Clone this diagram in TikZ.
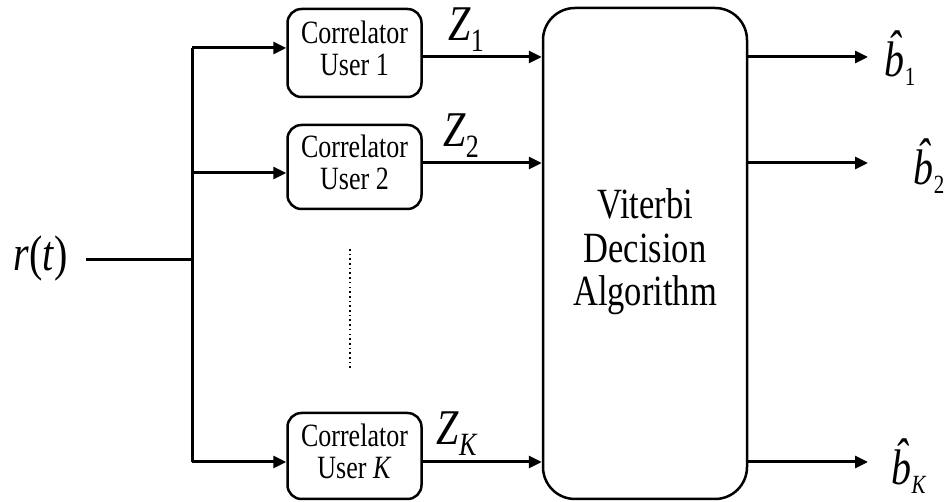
\documentclass[tikz,border=0pt]{standalone}
\usepackage{fontspec}
\usepackage{graphicx}
\setmainfont{Liberation Serif}
\usetikzlibrary{arrows.meta}
% text is set tall and narrow
\newcommand\tall[1]{\scalebox{1}[1.25]{#1}}
% stacked lines inside a box
\newcommand\lines[1]{\tall{\begin{tabular}{@{}c@{}}#1\end{tabular}}}
% lowered subscript in a smaller size
\newcommand\lowsub[3]{\raisebox{-#1pt}{\fontsize{#2}{#2}\selectfont #3}}
% b with a circumflex over it
\newcommand\bhat{\textit{\makebox[0pt][l]{\hspace{3pt}\raisebox{9pt}{ˆ}}b}}
\begin{document}
\begin{tikzpicture}[x=1pt,y=-1pt,
  corr/.style={draw, line width=2.5pt, rounded corners=14pt, minimum width=134pt,
    align=center, font=\fontsize{26}{26}\selectfont, inner sep=0pt},
  bigbox/.style={draw, line width=2.5pt, rounded corners=32pt, minimum width=204pt,
    minimum height=491pt, align=center, font=\fontsize{34.5}{35}\selectfont},
  wire/.style={line width=3pt},
  arr/.style={line width=3pt, -{Triangle[length=13pt,width=12pt]}},
  lbl/.style={inner sep=0pt, font=\fontsize{40}{40}\selectfont}]
\useasboundingbox (0,0) rectangle (946,502);

% correlator bank
\node[corr, minimum height=88pt] (c1) at (354.5,53) {\lines{Correlator\\User 1}};
\node[corr, minimum height=84pt] (c2) at (354.5,167) {\lines{Correlator\\User 2}};
\node[corr, minimum height=86pt] (cK) at (354.5,456) {\lines{Correlator\\User \textit{K}}};

% decision block
\node[bigbox] (vit) at (645,253.5) {\lines{Viterbi\\Decision\\Algorithm}};

% input signal and distribution bus
\node[lbl] (r) at (41,258) {\tall{\textit{r}(\textit{t})}};
\coordinate (rin) at (86,260);
\coordinate (split) at (192,260);
\coordinate (bt) at (192,48);
\coordinate (bm) at (192,173);
\coordinate (bb) at (192,462);
\draw[wire] (rin) -- (split);
\draw[wire] (bt) -- (bb);
\draw[arr] (bt) -- (c1.west |- bt);
\draw[arr] (bm) -- (c2.west |- bm);
\draw[arr] (bb) -- (cK.west |- bb);

% correlator outputs
\coordinate (o1) at (0,57);
\coordinate (o2) at (0,163);
\coordinate (oK) at (0,462);
\draw[arr] (c1.east |- o1) -- (vit.west |- o1);
\draw[arr] (c2.east |- o2) -- (vit.west |- o2);
\draw[arr] (cK.east |- oK) -- (vit.west |- oK);
\node[lbl] (z1) at (466,30) {\tall{\textit{Z}\lowsub{9}{26}{1}}};
\node[lbl] (z2) at (461,136) {\tall{\textit{Z}\lowsub{9}{26}{2}}};
\node[lbl] (zK) at (457,434) {\tall{\textit{Z}\lowsub{9}{26}{\textit{K}}}};

% vertical ellipsis between users
\coordinate (d1) at (350,249);
\coordinate (d2) at (350,370);
\draw[line width=1.6pt, dash pattern=on 1.6pt off 3.1pt] (d1) -- (d2);

% decisions
\coordinate (e1) at (868,57);
\coordinate (e2) at (868,163);
\coordinate (eK) at (868,462);
\draw[arr] (vit.east |- e1) -- (e1);
\draw[arr] (vit.east |- e2) -- (e2);
\draw[arr] (vit.east |- eK) -- (eK);
\node[lbl] (b1) at (900,58) {\tall{\bhat\lowsub{7}{21}{1}}};
\node[lbl] (b2) at (929,166) {\tall{\bhat\lowsub{7}{21}{2}}};
\node[lbl] (bK) at (909,466) {\tall{\bhat\lowsub{7}{21}{\textit{K}}}};
\end{tikzpicture}
\end{document}
